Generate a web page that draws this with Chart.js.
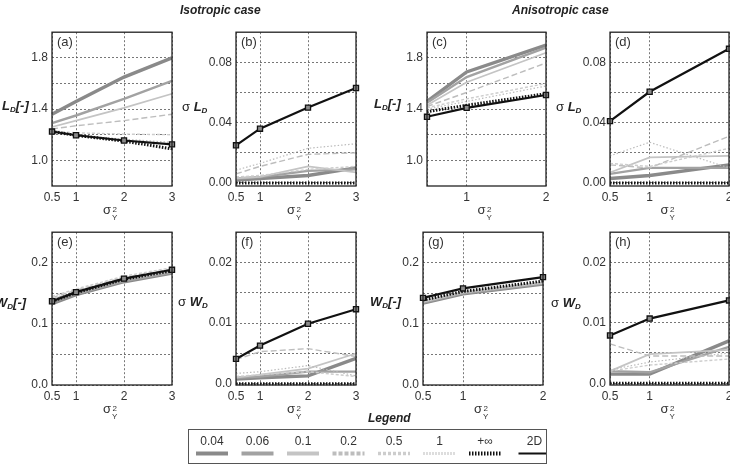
<!DOCTYPE html>
<html>
<head>
<meta charset="utf-8">
<script src="https://cdn.jsdelivr.net/npm/chart.js@4.4.1/dist/chart.umd.min.js"></script>
<style>
  body { margin: 0; width: 730px; height: 468px; overflow: hidden; background: #fff; position: relative;
         font-family: "Liberation Sans", Arial, sans-serif; color: #222; }
  canvas { position: absolute; }
  .t { position: absolute; white-space: nowrap; font-weight: bold; font-style: italic; font-size: 12px; }
  .yl { position: absolute; white-space: nowrap; font-size: 13px; transform: translateY(-50%); }
  .yl b { font-style: italic; }
  .yl sub { font-size: 8px; vertical-align: -2px; }
  .pl { position: absolute; font-size: 13px; color: #333; }
  .xl { position: absolute; font-size: 13px; white-space: nowrap; color: #333; }
  .ss { display: inline-block; vertical-align: -6px; font-size: 8px; line-height: 8px; margin-left: 1px; text-align: center; }
  .ss span { display: block; }
  #legbox { position: absolute; left: 188px; top: 429px; width: 357px; height: 33px; border: 1px solid #555; }
  .lt { position: absolute; font-size: 12px; color: #333; transform: translateX(-50%); top: 434px; }
</style>
</head>
<body>
<script>
// x values (sigma_Y^2)
const sigmaIso = [0.5, 1, 2, 3];
const sigmaAniso = [0.5, 1, 2];
const isoXText = ['0.5', '1', '2', '3'];
const anisoXTextTop = ['', '1', '2'];
const anisoXText = ['0.5', '1', '2'];

// series, in legend order
const seriesLabels = ['0.04', '0.06', '0.1', '0.2', '0.5', '1', '+\u221e', '2D'];

// y ticks
const ldGrid = [1.0, 1.2, 1.4, 1.6, 1.8];
const ldTicks = [1.0, 1.4, 1.8];
const ldTickText = ['1.0', '1.4', '1.8'];
const sdLdGrid = [0, 0.02, 0.04, 0.06, 0.08];
const sdLdTicks = [0, 0.04, 0.08];
const sdLdTickText = ['0.00', '0.04', '0.08'];
const wdGrid = [0, 0.05, 0.1, 0.15, 0.2];
const wdTicks = [0, 0.1, 0.2];
const wdTickText = ['0.0', '0.1', '0.2'];
const sdWdGrid = [0, 0.005, 0.01, 0.015, 0.02];
const sdWdTicks = [0, 0.01, 0.02];
const sdWdTickText = ['0.0', '0.01', '0.02'];

// (a) L_D, isotropic - one row per series
const ldIso = [
  [1.36, 1.46, 1.65, 1.80],
  [1.29, 1.35, 1.48, 1.62],
  [1.26, 1.31, 1.41, 1.52],
  [1.245, 1.27, 1.31, 1.36],
  [1.23, 1.215, 1.205, 1.20],
  [1.225, 1.20, 1.165, 1.14],
  [1.225, 1.195, 1.15, 1.09],
  [1.225, 1.196, 1.155, 1.125]
];
// (b) sigma L_D, isotropic
const sdLdIso = [
  [0.002, 0.003, 0.005, 0.010],
  [0.003, 0.004, 0.008, 0.009],
  [0.003, 0.004, 0.011, 0.007],
  [0.006, 0.011, 0.019, 0.020],
  [0.004, 0.005, 0.009, 0.011],
  [0.0085, 0.013, 0.023, 0.026],
  [0, 0, 0, 0],
  [0.025, 0.036, 0.050, 0.063]
];
// (c) L_D, anisotropic
const ldAniso = [
  [1.46, 1.69, 1.90],
  [1.45, 1.65, 1.88],
  [1.43, 1.61, 1.84],
  [1.42, 1.53, 1.76],
  [1.41, 1.48, 1.60],
  [1.40, 1.46, 1.58],
  [1.38, 1.43, 1.52],
  [1.34, 1.41, 1.51]
];
// (d) sigma L_D, anisotropic
const sdLdAniso = [
  [0.003, 0.005, 0.012],
  [0.006, 0.010, 0.010],
  [0.007, 0.017, 0.018],
  [0.012, 0.010, 0.031],
  [0.013, 0.011, 0.023],
  [0.018, 0.027, 0.010],
  [0, 0, 0],
  [0.041, 0.0605, 0.089]
];
// (e) W_D, isotropic
const wdIso = [
  [0.133, 0.148, 0.169, 0.183],
  [0.135, 0.149, 0.170, 0.184],
  [0.138, 0.151, 0.172, 0.186],
  [0.143, 0.155, 0.176, 0.190],
  [0.145, 0.157, 0.178, 0.192],
  [0.141, 0.154, 0.175, 0.189],
  [0.137, 0.151, 0.173, 0.187],
  [0.137, 0.152, 0.174, 0.1885]
];
// (f) sigma W_D, isotropic
const sdWdIso = [
  [0.0008, 0.001, 0.0013, 0.0042],
  [0.001, 0.0012, 0.002, 0.002],
  [0.001, 0.0015, 0.0025, 0.005],
  [0.004, 0.0053, 0.0058, 0.0045],
  [0.0012, 0.0015, 0.002, 0.0012],
  [0.0017, 0.002, 0.003, 0.0013],
  [0, 0, 0, 0],
  [0.0041, 0.0063, 0.0099, 0.0123]
];
// (g) W_D, anisotropic
const wdAniso = [
  [0.134, 0.149, 0.165],
  [0.135, 0.150, 0.166],
  [0.136, 0.151, 0.167],
  [0.137, 0.152, 0.168],
  [0.137, 0.152, 0.168],
  [0.138, 0.152, 0.169],
  [0.139, 0.153, 0.170],
  [0.1425, 0.158, 0.1765]
];
// (h) sigma W_D, anisotropic
const sdWdAniso = [
  [0.0015, 0.0015, 0.007],
  [0.002, 0.0018, 0.006],
  [0.002, 0.0048, 0.0055],
  [0.0065, 0.0045, 0.0045],
  [0.002, 0.003, 0.004],
  [0.0022, 0.0035, 0.005],
  [0, 0, 0],
  [0.0079, 0.0107, 0.0137]
];

// line styles
const lineColor = ['#8a8a8a', '#a2a2a2', '#c4c4c4', '#bdbdbd', '#cdcdcd', '#bcbcbc', '#111', '#111'];
const lineWidth = [3.4, 2.4, 1.7, 1.4, 1.4, 1.2, 3, 2.2];
const lineDash = [[], [], [], [6, 3], [3, 2], [1.5, 2], [1.5, 1.5], []];
const legWidth = [4, 4, 4, 4, 3.5, 3, 4, 2];
const legDash = [[], [], [], [4, 2], [3, 2], [1, 2], [1.5, 1.5], []];

const FONT = '"Liberation Sans", Arial, sans-serif';

const panels = [
  { tag: '(a)', box: [52, 31, 172, 186], x: sigmaIso, xText: isoXText, y: ldIso, min: 0.8, max: 2.0, grid: ldGrid, ticks: ldTicks, tickText: ldTickText,
    ylab: '<b>L<sub>D</sub>[-]</b>', ylx: 2, yly: 106 },
  { tag: '(b)', box: [236, 31, 356, 186], x: sigmaIso, xText: isoXText, y: sdLdIso, min: -0.002, max: 0.1, grid: sdLdGrid, ticks: sdLdTicks, tickText: sdLdTickText,
    ylab: '\u03c3 <b>L<sub>D</sub></b>', ylx: 182, yly: 107 },
  { tag: '(c)', box: [427, 31, 546, 186], x: sigmaAniso, xText: anisoXTextTop, y: ldAniso, min: 0.8, max: 2.0, grid: ldGrid, ticks: ldTicks, tickText: ldTickText,
    ylab: '<b>L<sub>D</sub>[-]</b>', ylx: 374, yly: 104 },
  { tag: '(d)', box: [610, 31, 729, 186], x: sigmaAniso, xText: anisoXText, y: sdLdAniso, min: -0.002, max: 0.1, grid: sdLdGrid, ticks: sdLdTicks, tickText: sdLdTickText,
    ylab: '\u03c3 <b>L<sub>D</sub></b>', ylx: 556, yly: 107 },
  { tag: '(e)', box: [52, 231, 172, 385], x: sigmaIso, xText: isoXText, y: wdIso, min: 0, max: 0.25, grid: wdGrid, ticks: wdTicks, tickText: wdTickText,
    ylab: '<b>W<sub>D</sub>[-]</b>', ylx: -5, yly: 303 },
  { tag: '(f)', box: [236, 231, 356, 385], x: sigmaIso, xText: isoXText, y: sdWdIso, min: -0.0002, max: 0.025, grid: sdWdGrid, ticks: sdWdTicks, tickText: sdWdTickText,
    ylab: '\u03c3 <b>W<sub>D</sub></b>', ylx: 178, yly: 302 },
  { tag: '(g)', box: [423, 231, 543, 385], x: sigmaAniso, xText: anisoXText, y: wdAniso, min: 0, max: 0.25, grid: wdGrid, ticks: wdTicks, tickText: wdTickText,
    ylab: '<b>W<sub>D</sub>[-]</b>', ylx: 370, yly: 302 },
  { tag: '(h)', box: [610, 231, 729, 385], x: sigmaAniso, xText: anisoXText, y: sdWdAniso, min: -0.0003, max: 0.025, grid: sdWdGrid, ticks: sdWdTicks, tickText: sdWdTickText,
    ylab: '\u03c3 <b>W<sub>D</sub></b>', ylx: 551, yly: 303 }
];

const frame = {
  id: 'frame',
  afterDraw(chart) {
    const a = chart.chartArea, ctx = chart.ctx;
    ctx.save();
    ctx.strokeStyle = '#222';
    ctx.lineWidth = 1.3;
    ctx.strokeRect(a.left, a.top, a.right - a.left, a.bottom - a.top);
    ctx.restore();
  }
};

function addHtml(cls, html, left, top) {
  const d = document.createElement('div');
  d.className = cls;
  d.innerHTML = html;
  d.style.left = left + 'px';
  d.style.top = top + 'px';
  document.body.appendChild(d);
}

function makePanel(p) {
  const pad = { l: 48, t: 10, r: 12, b: 24 };
  const w = p.box[2] - p.box[0] + pad.l + pad.r;
  const h = p.box[3] - p.box[1] + pad.t + pad.b;
  const cv = document.createElement('canvas');
  cv.width = w; cv.height = h;
  cv.style.left = (p.box[0] - pad.l) + 'px';
  cv.style.top = (p.box[1] - pad.t) + 'px';
  document.body.appendChild(cv);

  new Chart(cv, {
    type: 'line',
    data: {
      datasets: seriesLabels.map((name, i) => ({
        label: name,
        data: p.x.map((xv, j) => ({ x: xv, y: p.y[i][j] })),
        borderColor: lineColor[i],
        borderWidth: lineWidth[i],
        borderDash: lineDash[i],
        pointRadius: i === 7 ? 3.6 : 0,
        pointStyle: 'rect',
        pointBackgroundColor: '#8a8a8a',
        pointBorderColor: '#111',
        pointBorderWidth: 1.3,
        tension: 0,
        fill: false,
        clip: false,
        order: 7 - i
      }))
    },
    options: {
      responsive: false,
      animation: false,
      layout: { padding: { top: pad.t, right: pad.r, left: 0, bottom: 0 } },
      plugins: { legend: { display: false }, tooltip: { enabled: false } },
      scales: {
        x: {
          type: 'linear',
          min: p.x[0],
          max: p.x[p.x.length - 1],
          afterBuildTicks: s => { s.ticks = p.x.map(v => ({ value: v })); },
          afterFit: s => { s.height = pad.b; },
          ticks: {
            callback: v => p.xText[p.x.indexOf(v)],
            color: '#333', font: { family: FONT, size: 12 }, padding: 4, maxRotation: 0, autoSkip: false
          },
          grid: { color: '#555', lineWidth: 0.8, drawTicks: false },
          border: { display: false, dash: [2, 2] }
        },
        y: {
          min: p.min,
          max: p.max,
          afterBuildTicks: s => { s.ticks = p.grid.map(v => ({ value: v })); },
          afterFit: s => { s.width = pad.l; },
          ticks: {
            callback: v => {
              const k = p.ticks.findIndex(t => Math.abs(t - v) < 1e-9);
              return k < 0 ? '' : p.tickText[k];
            },
            color: '#333', font: { family: FONT, size: 12 }, padding: 4, autoSkip: false
          },
          grid: { color: '#555', lineWidth: 0.8, drawTicks: false },
          border: { display: false, dash: [2, 2] }
        }
      }
    },
    plugins: [frame]
  });

  addHtml('pl', p.tag, p.box[0] + 5, p.box[1] + 3);
  addHtml('yl', p.ylab, p.ylx, p.yly);
  const cx = (p.box[0] + p.box[2]) / 2;
  addHtml('xl', '\u03c3<span class="ss"><span>2</span><span>Y</span></span>', cx - 9, p.box[3] + 16);
}

panels.forEach(makePanel);

addHtml('t', 'Isotropic case', 180, 3);
addHtml('t', 'Anisotropic case', 512, 3);
addHtml('t', 'Legend', 368, 411);

// legend
const lb = document.createElement('div');
lb.id = 'legbox';
document.body.appendChild(lb);
const lc = document.createElement('canvas');
lc.width = 357; lc.height = 33;
lc.style.left = '189px'; lc.style.top = '430px';
document.body.appendChild(lc);
const lctx = lc.getContext('2d');
seriesLabels.forEach((name, i) => {
  const cx = 23 + i * 45.5 + (i === 7 ? 4 : 0);
  addHtml('lt', name, 189 + cx, 434);
  lctx.save();
  lctx.strokeStyle = lineColor[i];
  lctx.lineWidth = legWidth[i];
  lctx.setLineDash(legDash[i]);
  lctx.beginPath();
  lctx.moveTo(cx - 16, 23.5);
  lctx.lineTo(cx + 16, 23.5);
  lctx.stroke();
  lctx.restore();
});
</script>
</body>
</html>
